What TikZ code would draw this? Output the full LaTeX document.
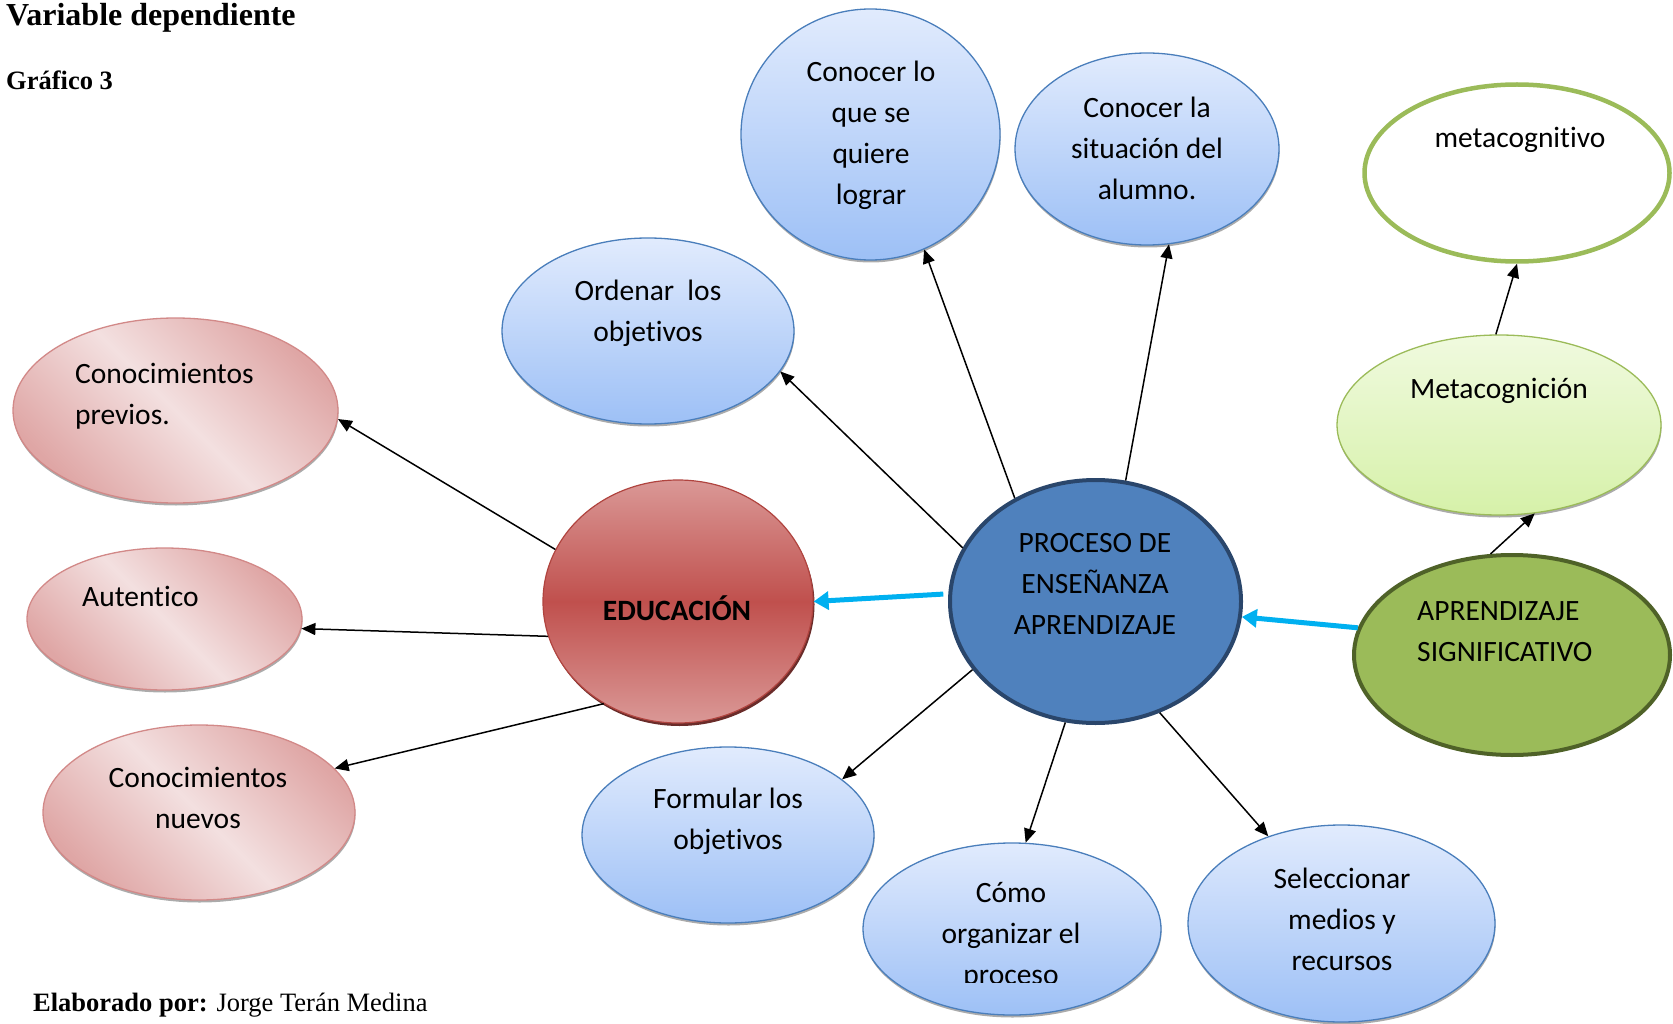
\documentclass[tikz,border=0pt]{standalone}
\usepackage{fontspec}
\setmainfont{Liberation Serif}
\newfontfamily\diagfont[Ligatures={NoCommon}]{Carlito}
\usetikzlibrary{shapes.geometric,shadows,arrows.meta}
\definecolor{btop}{HTML}{E1EBFD}
\definecolor{bbot}{HTML}{9DC0F6}
\definecolor{bborder}{HTML}{4A7EBB}
\definecolor{pdark}{HTML}{DFA6A5}
\definecolor{plight}{HTML}{F3E0E0}
\definecolor{pborder}{HTML}{D28988}
\definecolor{rlight}{HTML}{DA9896}
\definecolor{rmid}{HTML}{C0504D}
\definecolor{rborder}{HTML}{B0443F}
\definecolor{procfill}{HTML}{4F81BD}
\definecolor{procdraw}{HTML}{2A466B}
\definecolor{aprfill}{HTML}{9BBB59}
\definecolor{aprdraw}{HTML}{4F6228}
\definecolor{gtop}{HTML}{F0FADF}
\definecolor{gbot}{HTML}{D6F1A9}
\definecolor{cyanA}{HTML}{00B0F0}
\begin{document}
\begin{tikzpicture}[x=1pt,y=-1pt,
  bubble/.style={ellipse, inner sep=0pt},
  softshadow/.style={drop shadow={shadow xshift=0.5pt, shadow yshift=-2.5pt, fill=black!60, opacity=0.55}},
  bluebub/.style={bubble, draw=bborder, line width=1.3pt, top color=btop, bottom color=bbot, softshadow},
  pinkbub/.style={bubble, draw=pborder, line width=1.3pt, left color=pdark, right color=pdark, middle color=plight, shading angle=-45, softshadow},
  txt/.style={font=\diagfont\fontsize{29.5}{41}\selectfont, align=center, inner sep=0pt},
  txtl/.style={font=\diagfont\fontsize{29.5}{41}\selectfont, align=left, inner sep=0pt},
  blk/.style={-{Triangle[length=14pt,width=12pt]}, line width=1.5pt, black},
  cy/.style={-{Triangle[length=15pt,width=18pt]}, line width=5pt, cyanA}
]
\useasboundingbox (0,0) rectangle (1673,1024);

% headings
\node[anchor=base west, inner sep=0pt, font=\fontsize{32}{38}\selectfont\bfseries] (title) at (6,26) {Variable dependiente};
\node[anchor=base west, inner sep=0pt, font=\fontsize{26.5}{32}\selectfont\bfseries] (graf) at (6,90) {Gráfico 3};
\node[anchor=base west, inner sep=0pt, font=\fontsize{26.5}{32}\selectfont] (elab) at (33,1011) {\textbf{Elaborado por:} Jorge Terán Medina};

% bubbles
\node[bluebub, minimum width=259pt, minimum height=251pt] (lo) at (870.5,134.5) {};
\node[bluebub, minimum width=264pt, minimum height=192pt] (la) at (1147,149) {};
\node[bubble, draw=aprfill, line width=4.5pt, fill=white, minimum width=305pt, minimum height=177pt] (mcv) at (1517,173) {};
\node[bluebub, minimum width=292pt, minimum height=186pt] (ord) at (648,331) {};
\node[pinkbub, minimum width=325pt, minimum height=185pt] (prev) at (175.5,410.5) {};
\node[bubble, draw=aprfill, line width=1.3pt, top color=gtop, bottom color=gbot, softshadow,
  minimum width=324pt, minimum height=180pt] (mcg) at (1499,425) {};
\node[bubble, draw=rborder, line width=1.2pt, top color=rlight, bottom color=rlight, middle color=rmid,
  drop shadow={shadow xshift=1.5pt, shadow yshift=-3pt, fill=rmid!55!black, opacity=1},
  minimum width=270pt, minimum height=243pt] (edu) at (678,601.5) {};
\node[bubble, draw=procdraw, line width=4pt, fill=procfill, minimum width=291pt, minimum height=243pt] (proc) at (1095.5,601.5) {};
\node[bubble, draw=aprdraw, line width=4pt, fill=aprfill, minimum width=316pt, minimum height=200pt] (apr) at (1512,655) {};
\node[pinkbub, minimum width=275pt, minimum height=142pt] (aut) at (164.5,619) {};
\node[pinkbub, minimum width=312pt, minimum height=175pt] (nue) at (199,812.5) {};
\node[bluebub, minimum width=292pt, minimum height=176pt] (form) at (728,835) {};
\node[bluebub, minimum width=298pt, minimum height=172pt] (como) at (1012,929) {};
\node[bluebub, minimum width=307pt, minimum height=197pt] (sel) at (1341.5,923.5) {};

% texts
\node[txt] (tlo) at (871,135.3) {\strut Conocer lo\\\strut que se\\\strut quiere\\\strut lograr};
\node[txt] (tla) at (1147,150) {\strut Conocer la\\\strut situación del\\\strut alumno.};
\node[txt] (tmcv) at (1520,139.8) {\strut metacognitivo};
\node[txt] (tord) at (648,313) {\strut Ordenar\ \ los\\\strut objetivos};
\node[txtl, anchor=west] (tprev) at (75,395.3) {\strut Conocimientos\\\strut previos.};
\node[txt] (tmcg) at (1499,389.8) {\strut Metacognición};
\node[txt, font=\diagfont\fontsize{29.5}{41}\selectfont\bfseries] (tedu) at (677,611.8) {\strut EDUCACIÓN};
\node[txt] (tproc) at (1095,584.8) {\strut PROCESO DE\\\strut ENSEÑANZA\\\strut APRENDIZAJE};
\node[txtl, anchor=west] (tapr) at (1417,632.3) {\strut APRENDIZAJE\\\strut SIGNIFICATIVO};
\node[txtl, anchor=west] (taut) at (82,597.8) {\strut Autentico};
\node[txt] (tnue) at (198,799.3) {\strut Conocimientos\\\strut nuevos};
\node[txt] (tform) at (728,821) {\strut Formular los\\\strut objetivos};
\begin{scope}
\clip (0,0) rectangle (1673,982);
\node[txt] (tcomo) at (1011,934.8) {\strut Cómo\\\strut organizar el\\\strut proceso};
\end{scope}
\node[txt] (tsel) at (1342,920.8) {\strut Seleccionar\\\strut medios y\\\strut recursos};

% connectors
\draw[blk] (edu.157) -- (prev.-3);
\draw[blk] (edu.195) -- (aut.-4);
\draw[blk] (edu.234) -- (nue.18);
\draw[cy, shorten <=5pt] (proc.177) -- (edu.0);
\draw[blk] (proc.158) -- (ord.-17);
\draw[blk] (proc.128) -- (lo.-65);
\draw[blk] (proc.76) -- (la.-77);
\draw[blk] (proc.209) -- (form.26);
\draw[blk] (proc.256) -- (como.81);
\draw[blk] (proc.-60) -- (sel.130);
\draw[cy] (apr.170) -- (proc.-6);
\draw[blk] (apr.102) -- (mcg.-68);
\draw[blk] (mcg.92) -- (mcv.south);
\end{tikzpicture}
\end{document}
